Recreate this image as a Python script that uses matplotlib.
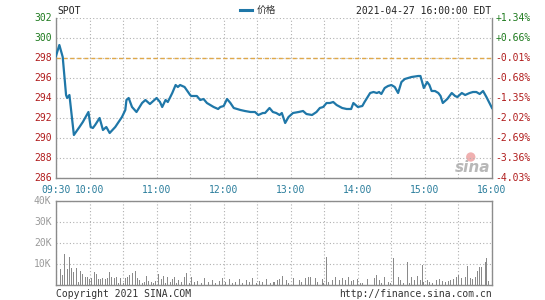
import matplotlib
matplotlib.use("Agg")
import matplotlib.pyplot as plt
import numpy as np

# ---- data ----
price_minutes = [0, 3, 6, 9, 10, 12, 16, 21, 24, 29, 31, 33, 35, 39, 42, 45, 48, 53, 59, 62, 63, 65, 68, 72, 77, 80,
                 84, 90, 93, 95, 98, 100, 104, 107, 109, 111, 115, 120, 121, 126, 129, 132, 135, 141, 145, 147,
                 150, 153, 156, 159, 165, 169, 174, 178, 181, 185, 187, 191, 194, 197, 200, 202, 205, 208, 212,
                 217, 221, 224, 229, 233, 236, 239, 242, 245, 248, 251, 256, 260, 264, 266, 270, 274, 276, 281,
                 284, 287, 289, 291, 294, 297, 300, 303, 306, 309, 312, 318, 324, 326, 329, 332, 334, 336, 339,
                 342, 344, 346, 350, 354, 357, 359, 363, 366, 370, 373, 376, 379, 382, 385, 390]
price_values = [298.2, 299.3, 298.1, 294.3, 294.0, 294.3, 290.3, 291.1, 291.6, 292.6, 291.1, 291.0, 291.3, 292.0,
                290.8, 291.1, 290.5, 291.1, 292.1, 292.8, 293.8, 294.0, 293.1, 292.6, 293.5, 293.8, 293.4,
                294.0, 293.6, 293.1, 293.8, 293.6, 294.5, 295.3, 295.1, 295.3, 295.1, 294.3, 294.2, 294.2,
                293.8, 293.9, 293.5, 293.1, 292.9, 293.1, 293.2, 293.9, 293.5, 293.0, 292.8, 292.7, 292.6,
                292.6, 292.3, 292.5, 292.5, 293.0, 292.6, 292.5, 292.3, 292.5, 291.5, 292.1, 292.5, 292.6,
                292.7, 292.4, 292.3, 292.6, 293.0, 293.1, 293.5, 293.5, 293.6, 293.3, 293.0, 292.9, 292.9,
                293.5, 293.1, 293.2, 293.6, 294.5, 294.6, 294.5, 294.6, 294.4, 295.0, 295.2, 295.3, 295.1,
                294.5, 295.6, 295.9, 296.1, 296.2, 296.2, 295.0, 295.6, 295.3, 294.7, 294.7, 294.5, 294.2,
                293.5, 293.9, 294.5, 294.2, 294.1, 294.5, 294.3, 294.5, 294.6, 294.6, 294.4, 294.7, 294.1,
                293.0]
prev_close = 298.03

vol_minutes = [0, 4, 6, 8, 10, 12, 14, 16, 18, 20, 22, 24, 26, 28, 30, 32, 34, 36, 38, 40, 42, 44, 46, 48, 50,
               52, 54, 56, 58, 60, 62, 64, 66, 68, 71, 73, 75, 77, 79, 81, 83, 85, 87, 89, 92, 94, 96, 98, 100,
               102, 104, 106, 108, 110, 112, 115, 117, 119, 121, 124, 127, 130, 133, 136, 140, 143, 146, 149,
               152, 155, 158, 161, 164, 167, 170, 173, 176, 179, 182, 185, 188, 192, 195, 198, 200, 203, 206,
               208, 212, 218, 220, 223, 226, 228, 232, 234, 238, 239, 242, 244, 247, 250, 254, 256, 259, 262,
               264, 266, 270, 272, 274, 279, 285, 287, 289, 291, 294, 297, 299, 302, 306, 308, 311, 314, 316,
               318, 321, 323, 326, 328, 329, 332, 334, 337, 340, 343, 346, 348, 351, 353, 356, 358, 360, 363,
               366, 368, 371, 373, 375, 377, 379, 381, 384, 385, 387, 389]
vol_k = [31.0, 7.5, 5.0, 14.8, 7.5, 13.2, 7.9, 6.3, 7.9, 1.6, 6.7, 5.2, 4.0, 3.7, 2.7, 3.2, 6.0, 5.2, 2.7, 2.7,
         3.2, 2.7, 3.2, 6.0, 3.7, 3.2, 4.0, 0.8, 3.2, 1.1, 3.2, 3.7, 4.8, 5.6, 6.7, 3.2, 2.4, 0.8, 1.6, 4.3, 2.1,
         1.6, 0.8, 2.1, 5.1, 2.7, 4.3, 1.1, 4.0, 1.6, 2.7, 4.0, 1.1, 2.4, 1.6, 3.7, 5.6, 1.1, 4.0, 1.2, 2.0, 1.0,
         3.2, 1.5, 2.5, 0.8, 1.8, 3.5, 1.2, 2.8, 1.0, 1.5, 3.0, 0.8, 2.2, 1.4, 3.4, 1.0, 2.0, 1.6, 2.8, 1.0,
         1.5, 2.4, 2.7, 4.3, 2.4, 0.8, 3.5, 2.4, 1.6, 3.2, 3.7, 4.0, 3.2, 1.6, 2.7, 1.1, 13.5, 1.6, 2.4, 3.7,
         2.4, 3.2, 2.4, 4.0, 2.1, 2.4, 2.7, 1.1, 0.8, 2.7, 3.2, 4.8, 2.4, 1.1, 3.7, 1.6, 0.8, 13.0, 3.7, 2.4,
         1.1, 10.8, 0.8, 3.7, 2.4, 4.3, 2.4, 9.5, 1.6, 2.4, 1.6, 1.1, 2.4, 2.7, 2.1, 1.6, 2.1, 2.4, 2.7, 3.7,
         4.8, 3.2, 3.7, 9.0, 3.2, 2.7, 3.7, 6.7, 8.4, 8.4, 11.0, 12.7, 2.0]
vol_minutes = vol_minutes[:len(vol_k)]
vol_k = vol_k[:len(vol_minutes)]

price_ticks = [302, 300, 298, 296, 294, 292, 290, 288, 286]
pct_labels = ["+1.34%", "+0.66%", "-0.01%", "-0.68%", "-1.35%", "-2.02%", "-2.69%", "-3.36%", "-4.03%"]
time_ticks = [0, 30, 90, 150, 210, 270, 330, 390]
time_labels = ["09:30", "10:00", "11:00", "12:00", "13:00", "14:00", "15:00", "16:00"]
vol_ticks = [10, 20, 30, 40]
vol_labels = ["10K", "20K", "30K", "40K"]

# ---- styling ----
W, H = 545, 300
fig = plt.figure(figsize=(W / 100, H / 100), dpi=100)
mono = "DejaVu Sans Mono"
fs = 7
green = "#1e7a1e"
red = "#b01c1c"
teal = "#2a7d9c"
gridc = "#b0b0b0"
spinec = "#8c8c8c"
linec = "#1f77a8"


def ax_rect(x0, y0, x1, y1):
    return [x0 / W, 1 - y1 / H, (x1 - x0) / W, (y1 - y0) / H]


ax = fig.add_axes(ax_rect(56, 18, 492, 178))
ax.set_xlim(0, 390)
ax.set_ylim(286, 302)
ax.plot(price_minutes, price_values, color=linec, lw=1.6, zorder=3, solid_joinstyle="round")
ax.axhline(prev_close, color="#e0a848", lw=1.0, ls=(0, (3, 2)), zorder=2)
ax.set_yticks(price_ticks)
ax.set_xticks([t for t in range(0, 391, 30)])
ax.grid(True, color=gridc, ls=(0, (1, 2)), lw=0.8)
ax.tick_params(length=0, labelbottom=False, labelleft=False)
for s in ["left", "right", "bottom"]:
    ax.spines[s].set_color(spinec)
    ax.spines[s].set_linewidth(1.0)
ax.spines["top"].set_visible(False)

for p, lab in zip(price_ticks, pct_labels):
    c = green if p > prev_close else red
    ax.text(-4, p, str(p), ha="right", va="center",
            fontsize=fs, family=mono, color=c, clip_on=False)
    ax.text(393, p, lab, ha="left", va="center", fontsize=fs, family=mono, color=c, clip_on=False)

for t, lab in zip(time_ticks, time_labels):
    ax.text(t, 285.3, lab, ha="center", va="top", fontsize=fs, family=mono, color=teal, clip_on=False)

# header
fig.text(57 / W, 1 - 11 / H, "SPOT", ha="left", va="center", fontsize=fs, family=mono, color="#222222")
fig.add_artist(plt.Line2D([240 / W, 252 / W], [1 - 10 / H, 1 - 10 / H], color=linec, lw=2.2))
fig.text(257 / W, 1 - 10 / H, "价格", ha="left", va="center", fontsize=fs,
         family=["Noto Sans CJK SC", "DejaVu Sans"], color="#333333")
fig.text(491 / W, 1 - 11 / H, "2021-04-27 16:00:00 EDT", ha="right", va="center",
         fontsize=fs, family=mono, color="#222222")

# watermark (sina logo)
ax.text(373, 287.1, "sina", ha="center", va="center", fontsize=11, color="#b8b8b8",
        style="italic", fontweight="bold", zorder=1)
ax.scatter([371], [288.1], s=45, color="#f0b0b0", zorder=1, edgecolors="none")

# volume panel
vax = fig.add_axes(ax_rect(56, 201, 492, 285))
vax.set_xlim(0, 390)
vax.set_ylim(0, 40)
vax.bar(vol_minutes, vol_k, width=0.9, color="#8a8a8a", zorder=3)
vax.set_yticks(vol_ticks)
vax.set_xticks([t for t in range(0, 391, 30)])
vax.grid(True, color=gridc, ls=(0, (1, 2)), lw=0.8)
vax.tick_params(length=0, labelbottom=False, labelleft=False)
for s in vax.spines.values():
    s.set_color(spinec)
    s.set_linewidth(1.0)
for v, lab in zip(vol_ticks, vol_labels):
    vax.text(-4, v, lab, ha="right", va="center", fontsize=fs, family=mono, color="#9a9a9a", clip_on=False)

fig.text(56 / W, 1 - 294 / H, "Copyright 2021 SINA.COM", ha="left", va="center",
         fontsize=fs, family=mono, color="#333333")
fig.text(492 / W, 1 - 294 / H, "http://finance.sina.com.cn", ha="right", va="center",
         fontsize=fs, family=mono, color="#333333")

fig.savefig("out.png", dpi=100)
